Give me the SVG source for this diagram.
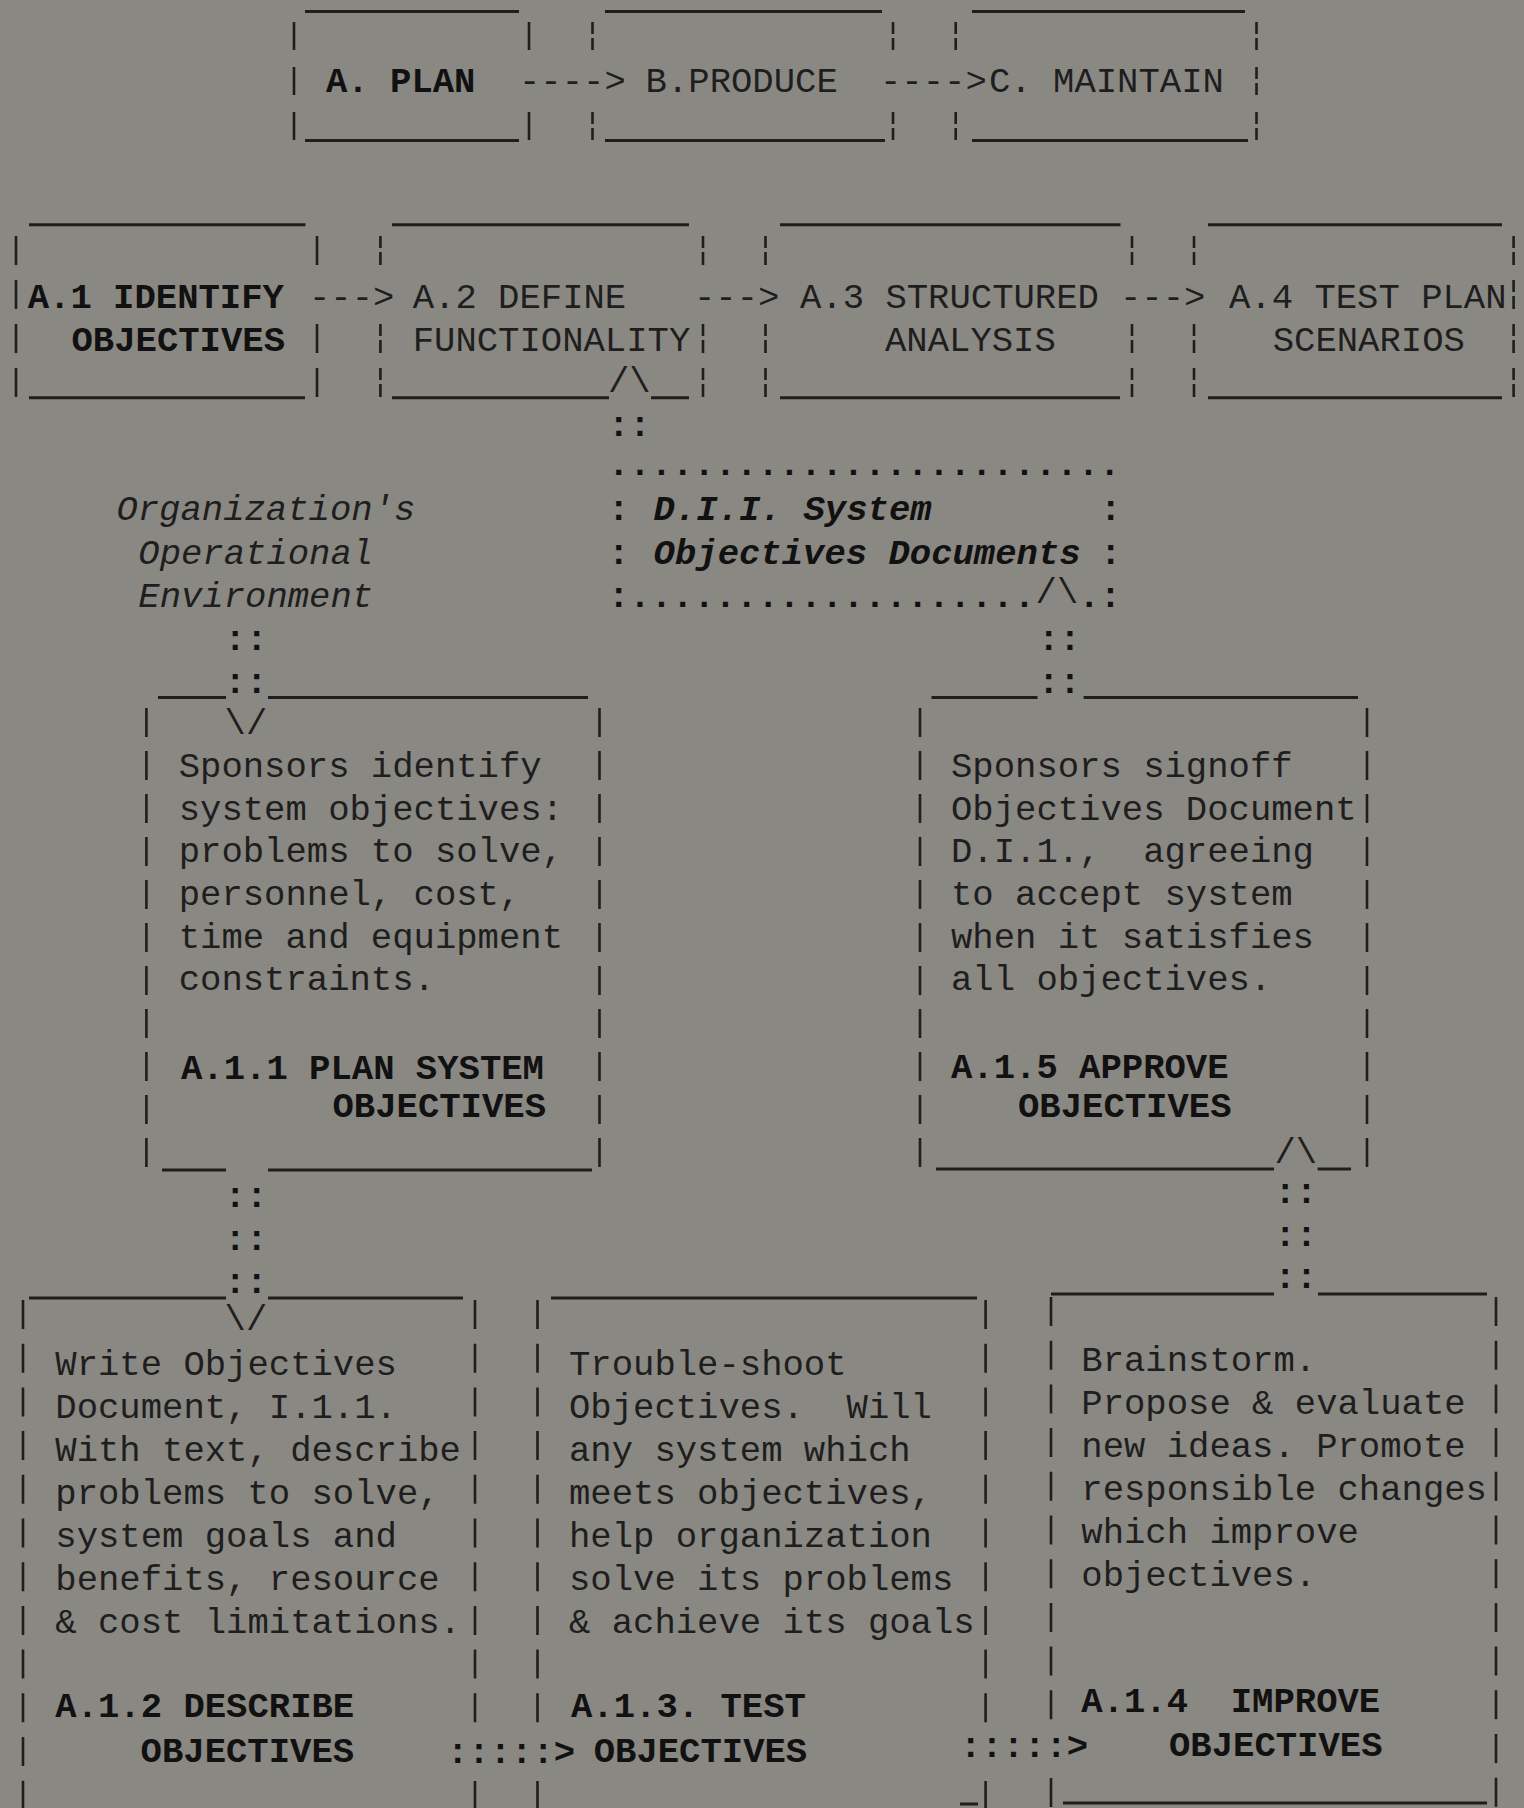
<svg xmlns="http://www.w3.org/2000/svg" width="1524" height="1808" viewBox="0 0 1524 1808" xml:space="preserve">
<style>
text{font-family:"Liberation Mono","Courier New",monospace;font-size:35.6px;fill:#1e1e1e;white-space:pre}
.b{font-weight:bold;fill:#111}
.i{font-style:italic}
.ln{stroke:#1e1e1e;stroke-width:3;fill:none}
.sd{stroke:#1e1e1e;stroke-width:2.6;fill:none}
.s43{stroke-dasharray:29 14}
.s44{stroke-dasharray:29 14.7}
</style>
<rect width="1524" height="1808" fill="#8a8883"/>

<g id="node-A-plan">
<path class="ln" d="M305 11.5H519M305 140.6H519"/>
<path class="sd" d="M294 22V50M294 67V95M294 112V140M529 22V50M529 112V140"/>
<text class="b" x="326" y="92">A. PLAN</text>
</g>
<g id="node-B-produce">
<path class="ln" d="M605 11.5H882M605 140.6H885"/>
<path class="sd" d="M592.5 22V34M592.5 38V50M592.5 112V124M592.5 128V140M893 22V34M893 38V50M893 112V124M893 128V140"/>
<text x="645.6" y="92">B.PRODUCE</text>
</g>
<g id="node-C-maintain">
<path class="ln" d="M972 11.5H1245M972 140.6H1248"/>
<path class="sd" d="M955.7 22V34M955.7 38V50M955.7 112V124M955.7 128V140M1256.5 22V34M1256.5 38V50M1256.5 67V79M1256.5 83V95M1256.5 112V124M1256.5 128V140"/>
<text x="989" y="92">C. MAINTAIN</text>
</g>

<g id="node-A1">
<path class="ln" d="M29 224.8H305.5M29 397.7H305"/>
<path class="sd" d="M16 236V265M16 280V309M16 324V353M16 368V397M317 236V265M317 324V353M317 368V397"/>
<text class="b" x="27.7" y="308">A.1 IDENTIFY</text>
<text class="b" x="71.5" y="350.5">OBJECTIVES</text>
</g>
<g id="node-A2">
<path class="ln" d="M392 224.8H689M392 397.7H609M651 397.7H689"/>
<path class="sd" d="M380.4 236V248M380.4 252V265M380.4 324V336M380.4 340V353M380.4 368V380M380.4 384V397M703 236V248M703 252V265M703 324V336M703 340V353M703 368V380M703 384V397"/>
<text x="412.7" y="308">A.2 DEFINE</text>
<text x="412.7" y="350.5">FUNCTIONALITY</text>
</g>
<g id="node-A3">
<path class="ln" d="M780 224.8H1120.5M780 397.7H1120"/>
<path class="sd" d="M765.5 236V248M765.5 252V265M765.5 324V336M765.5 340V353M765.5 368V380M765.5 384V397M1132 236V248M1132 252V265M1132 324V336M1132 340V353M1132 368V380M1132 384V397"/>
<text x="800" y="308">A.3 STRUCTURED</text>
<text x="885" y="350.5">ANALYSIS</text>
</g>
<g id="node-A4">
<path class="ln" d="M1208 224.8H1502M1208 397.7H1502"/>
<path class="sd" d="M1194 236V248M1194 252V265M1194 324V336M1194 340V353M1194 368V380M1194 384V397M1513.6 236V248M1513.6 252V265M1513.6 280V292M1513.6 296V309M1513.6 324V336M1513.6 340V353M1513.6 368V380M1513.6 384V397"/>
<text x="1229" y="308">A.4 TEST PLAN</text>
<text x="1272.7" y="350.5">SCENARIOS</text>
</g>

<g id="node-DII-documents">
<text class="b" x="608" y="475">........................</text>
<text class="b" x="608" y="520">:</text>
<text class="b i" x="653.6" y="520">D.I.I.</text>
<text class="b i" x="803.5" y="520">System</text>
<text class="b" x="1100" y="520">:</text>
<text class="b" x="608" y="564">:</text>
<text class="b i" x="653.6" y="564">Objectives Documents</text>
<text class="b" x="1100" y="564">:</text>
<text class="b" x="608" y="607">:...................</text>
<text class="b" x="1078.4" y="607">.:</text>
</g>

<g id="node-org-environment">
<text class="i" x="116.4" y="520">Organization's</text>
<text class="i" x="138.3" y="564">Operational</text>
<text class="i" x="138.3" y="607">Environment</text>
</g>

<g id="node-A11">
<path class="ln" d="M158 697.5H226M268 697.5H588M162 1170H226M268 1170H592"/>
<path class="sd s43" d="M146.4 708V1167M599.5 708V1167"/>
<text x="178.7" y="777">Sponsors identify</text>
<text x="178.7" y="819.7">system objectives:</text>
<text x="178.7" y="862.3">problems to solve,</text>
<text x="178.7" y="905">personnel, cost,</text>
<text x="178.7" y="947.6">time and equipment</text>
<text x="178.7" y="990.2">constraints.</text>
<text class="b" x="181" y="1079">A.1.1 PLAN SYSTEM</text>
<text class="b" x="332.5" y="1117">OBJECTIVES</text>
</g>

<g id="node-A15">
<path class="ln" d="M931.5 697.5H1037.5M1083.6 697.5H1358M936 1169H1274M1317.6 1169H1351"/>
<path class="sd s43" d="M920 708V1167M1367 708V1167"/>
<text x="951" y="777">Sponsors signoff</text>
<text x="951" y="819.7">Objectives Document</text>
<text x="951" y="862.3">D.I.1.,  agreeing</text>
<text x="951" y="905">to accept system</text>
<text x="951" y="947.6">when it satisfies</text>
<text x="951" y="990.2">all objectives.</text>
<text class="b" x="951" y="1078">A.1.5 APPROVE</text>
<text class="b" x="1018" y="1117">OBJECTIVES</text>
</g>

<g id="node-A12">
<path class="ln" d="M29 1298H226M268 1298H463"/>
<path class="sd s44" d="M23 1300V1808"/>
<path class="sd s44" d="M475 1300V1723M475 1781V1808"/>
<text x="55.3" y="1375">Write Objectives</text>
<text x="55.3" y="1418">Document, I.1.1.</text>
<text x="55.3" y="1461">With text, describe</text>
<text x="55.3" y="1504">problems to solve,</text>
<text x="55.3" y="1547">system goals and</text>
<text x="55.3" y="1590">benefits, resource</text>
<text x="55.3" y="1633">&amp; cost limitations.</text>
<text class="b" x="55.3" y="1717">A.1.2 DESCRIBE</text>
<text class="b" x="140.6" y="1762">OBJECTIVES</text>
</g>

<g id="node-A13">
<path class="ln" d="M551 1298H977M960 1804H978"/>
<path class="sd s44" d="M537.5 1300V1723M537.5 1781V1808M985.6 1300V1723M985.6 1781V1808"/>
<text x="569" y="1375">Trouble-shoot</text>
<text x="569" y="1418">Objectives.  Will</text>
<text x="569" y="1461">any system which</text>
<text x="569" y="1504">meets objectives,</text>
<text x="569" y="1547">help organization</text>
<text x="569" y="1590">solve its problems</text>
<text x="569" y="1633">&amp; achieve its goals</text>
<text class="b" x="571" y="1717">A.1.3. TEST</text>
<text class="b" x="593.7" y="1762">OBJECTIVES</text>
</g>

<g id="node-A14">
<path class="ln" d="M1051 1294H1274M1318 1294H1487M1063 1803H1487"/>
<path class="sd s44" d="M1051 1297V1720M1051 1778V1808M1496 1297V1808"/>
<text x="1081.3" y="1371">Brainstorm.</text>
<text x="1081.3" y="1414">Propose &amp; evaluate</text>
<text x="1081.3" y="1457">new ideas. Promote</text>
<text x="1081.3" y="1500">responsible changes</text>
<text x="1081.3" y="1543">which improve</text>
<text x="1081.3" y="1586">objectives.</text>
<text class="b" x="1081.3" y="1712">A.1.4  IMPROVE</text>
<text class="b" x="1169" y="1756">OBJECTIVES</text>
</g>

<g id="connectors">
<text x="519" y="92">----&gt;</text>
<text x="880" y="92">----&gt;</text>
<text x="309" y="308">---&gt;</text>
<text x="694" y="308">---&gt;</text>
<text x="1120" y="308">---&gt;</text>
<text x="608" y="392">/\</text>
<text class="b" x="608" y="436">::</text>
<text x="1035.6" y="603">/\</text>
<text class="b" x="1038" y="650">::</text>
<text class="b" x="1038" y="693">::</text>
<text class="b" x="224.6" y="650">::</text>
<text class="b" x="224.6" y="693">::</text>
<text x="224.6" y="734">\/</text>
<text class="b" x="224.6" y="1207">::</text>
<text class="b" x="224.6" y="1250">::</text>
<text class="b" x="224.6" y="1293">::</text>
<text x="224.6" y="1330">\/</text>
<text x="1274.4" y="1163">/\</text>
<text class="b" x="1274.4" y="1203">::</text>
<text class="b" x="1274.4" y="1246">::</text>
<text class="b" x="1274.4" y="1288">::</text>
<text class="b" x="447" y="1763">:::::&gt;</text>
<text class="b" x="960" y="1757">:::::&gt;</text>
</g>
</svg>
